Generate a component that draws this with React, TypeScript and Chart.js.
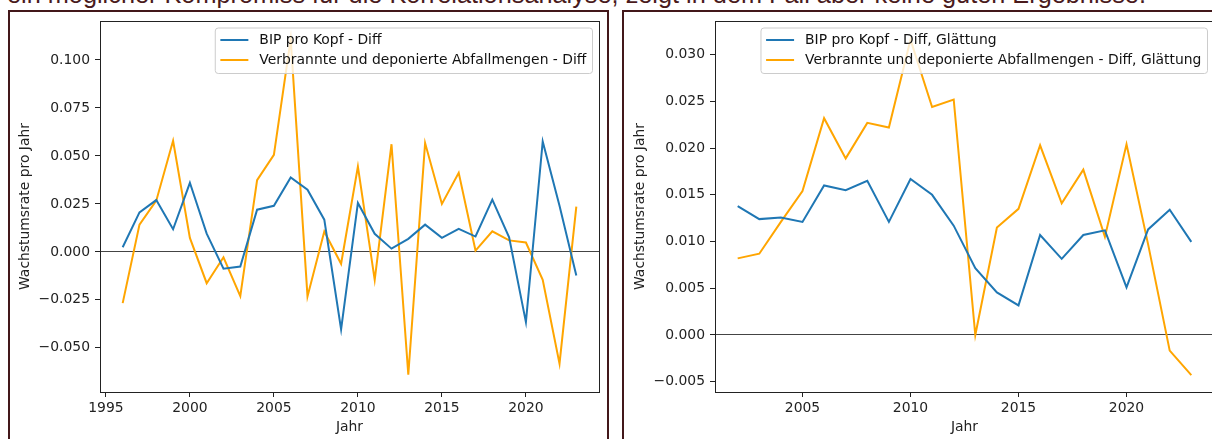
import React, { useEffect, useRef } from 'react';
import { Chart, registerables } from 'chart.js';

Chart.register(...registerables);
Chart.defaults.font.family = "'DejaVu Sans', sans-serif";
Chart.defaults.font.size = 13.9;
Chart.defaults.color = '#222';

const HEADER_TEXT = 'ein möglicher Kompromiss für die Korrelationsanalyse, zeigt in dem Fall aber keine guten Ergebnisse.';
const X_TITLE = 'Jahr';
const Y_TITLE = 'Wachstumsrate pro Jahr';

// Left panel: yearly differences
const LEFT_LABEL_BIP = 'BIP pro Kopf - Diff';
const LEFT_LABEL_ABFALL = 'Verbrannte und deponierte Abfallmengen - Diff';
const LEFT_YEARS = [1996, 1997, 1998, 1999, 2000, 2001, 2002, 2003, 2004, 2005, 2006, 2007, 2008, 2009, 2010, 2011, 2012, 2013, 2014, 2015, 2016, 2017, 2018, 2019, 2020, 2021, 2022, 2023];
const LEFT_BIP = [0.0024, 0.0206, 0.027, 0.0118, 0.036, 0.0095, -0.0088, -0.0076, 0.022, 0.024, 0.0388, 0.0324, 0.0168, -0.0404, 0.0255, 0.0094, 0.0017, 0.0068, 0.0142, 0.0073, 0.012, 0.008, 0.0272, 0.0076, -0.0366, 0.0575, 0.024, -0.0123];
const LEFT_ABFALL = [-0.0267, 0.0142, 0.0267, 0.0579, 0.0073, -0.0163, -0.0028, -0.023, 0.0374, 0.0506, 0.111, -0.0232, 0.0106, -0.0062, 0.0444, -0.0146, 0.0561, -0.064, 0.0567, 0.025, 0.0412, 0.0007, 0.0107, 0.006, 0.0049, -0.0146, -0.0582, 0.0236];
const LEFT_X_TICKS = [1995, 2000, 2005, 2010, 2015, 2020];
const LEFT_Y_TICKS = [-0.05, -0.025, 0, 0.025, 0.05, 0.075, 0.1];
const LEFT_X_RANGE = [1994.65, 2024.35];
const LEFT_Y_RANGE = [-0.073, 0.1203];

// Right panel: smoothed differences
const RIGHT_LABEL_BIP = 'BIP pro Kopf - Diff, Glättung';
const RIGHT_LABEL_ABFALL = 'Verbrannte und deponierte Abfallmengen - Diff, Glättung';
const RIGHT_YEARS = [2002, 2003, 2004, 2005, 2006, 2007, 2008, 2009, 2010, 2011, 2012, 2013, 2014, 2015, 2016, 2017, 2018, 2019, 2020, 2021, 2022, 2023];
const RIGHT_BIP = [0.0138, 0.0124, 0.01256, 0.0121, 0.016, 0.0155, 0.0165, 0.0121, 0.0167, 0.015, 0.0117, 0.00715, 0.00456, 0.00317, 0.0107, 0.00815, 0.0107, 0.0112, 0.0051, 0.0113, 0.0134, 0.00997];
const RIGHT_ABFALL = [0.0082, 0.0087, 0.0121, 0.0154, 0.0232, 0.0189, 0.0227, 0.0222, 0.0316, 0.0244, 0.0252, 0.0, 0.0115, 0.0135, 0.0203, 0.0141, 0.0177, 0.0105, 0.0204, 0.0097, -0.00167, -0.0043];
const RIGHT_X_TICKS = [2005, 2010, 2015, 2020];
const RIGHT_Y_TICKS = [-0.005, 0, 0.005, 0.01, 0.015, 0.02, 0.025, 0.03];
const RIGHT_X_RANGE = [2000.95, 2024.05];
const RIGHT_Y_RANGE = [-0.0061, 0.0336];

const BLUE = '#1f77b4';
const ORANGE = '#ffa500';
const FRAME = '#43181a';
const FONT_PX = 13.9;

const fmtY = (v: number) => (v < 0 ? '\u2212' : '') + Math.abs(v).toFixed(3);

const mplPlugin = {
  id: 'mplFrameLegend',
  afterDraw(chart: any) {
    const { ctx, chartArea } = chart;
    const { left, top, right, bottom } = chartArea;
    ctx.save();
    // spines
    ctx.strokeStyle = '#222';
    ctx.lineWidth = 1;
    ctx.strokeRect(Math.round(left) + 0.5, Math.round(top) + 0.5, Math.round(right) - Math.round(left), Math.round(bottom) - Math.round(top));
    // legend (upper right)
    const ds = chart.data.datasets;
    ctx.font = `${FONT_PX}px 'DejaVu Sans', sans-serif`;
    let maxW = 0;
    ds.forEach((d: any) => { maxW = Math.max(maxW, ctx.measureText(d.label).width); });
    const pad = 5.6;
    const handle = 28;
    const gap = 11;
    const w = pad * 2 + handle + gap + maxW;
    const h = 45.5;
    const bx = right - 7 - w;
    const by = top + 6.5;
    ctx.beginPath();
    if (ctx.roundRect) ctx.roundRect(bx + 0.5, by + 0.5, w, h, 3); else ctx.rect(bx + 0.5, by + 0.5, w, h);
    ctx.fillStyle = 'rgba(255,255,255,0.8)';
    ctx.fill();
    ctx.strokeStyle = '#cccccc';
    ctx.lineWidth = 1;
    ctx.stroke();
    ds.forEach((d: any, i: number) => {
      const cy = by + 12.5 + i * 20;
      ctx.beginPath();
      ctx.strokeStyle = d.borderColor;
      ctx.lineWidth = 2;
      ctx.moveTo(bx + pad, cy);
      ctx.lineTo(bx + pad + handle, cy);
      ctx.stroke();
      ctx.fillStyle = '#111';
      ctx.textBaseline = 'middle';
      ctx.textAlign = 'left';
      ctx.fillText(d.label, bx + pad + handle + gap, cy + 0.5);
    });
    ctx.restore();
  },
};

type PanelProps = {
  years: number[]; bip: number[]; abfall: number[];
  labelBip: string; labelAbfall: string;
  xTicks: number[]; yTicks: number[]; xRange: number[]; yRange: number[];
  left: number; top: number; width: number; height: number; padRight: number;
};

function Panel(p: PanelProps) {
  const ref = useRef<HTMLCanvasElement>(null);
  useEffect(() => {
    if (!ref.current) return;
    const chart = new Chart(ref.current, {
      type: 'line',
      data: {
        datasets: [
          { label: p.labelBip, data: p.years.map((x, i) => ({ x, y: p.bip[i] })), borderColor: BLUE, backgroundColor: BLUE, borderWidth: 2, pointRadius: 0, tension: 0, fill: false },
          { label: p.labelAbfall, data: p.years.map((x, i) => ({ x, y: p.abfall[i] })), borderColor: ORANGE, backgroundColor: ORANGE, borderWidth: 2, pointRadius: 0, tension: 0, fill: false },
        ],
      },
      options: {
        responsive: false,
        animation: false,
        events: [],
        layout: { padding: { left: 0, top: 9, right: p.padRight, bottom: 0 } },
        plugins: { legend: { display: false }, tooltip: { enabled: false } },
        scales: {
          x: {
            type: 'linear',
            min: p.xRange[0], max: p.xRange[1],
            afterBuildTicks: (s: any) => { s.ticks = p.xTicks.map((v) => ({ value: v })); },
            afterFit: (s: any) => { s.height = 47; s.paddingLeft = 0; s.paddingRight = 0; },
            ticks: { callback: (v: any) => String(v), color: '#222', padding: 3, maxRotation: 0, autoSkip: false, font: { size: FONT_PX } },
            grid: { drawOnChartArea: false, tickLength: 5, tickColor: '#222', tickWidth: 1 },
            border: { display: false },
            title: { display: true, text: X_TITLE, color: '#222', font: { size: FONT_PX }, padding: { top: 0, bottom: 3 } },
          },
          y: {
            type: 'linear',
            min: p.yRange[0], max: p.yRange[1],
            afterBuildTicks: (s: any) => { s.ticks = p.yTicks.map((v) => ({ value: v })); },
            afterFit: (s: any) => { s.width = 90; s.paddingTop = 0; s.paddingBottom = 0; },
            ticks: { callback: (v: any) => fmtY(Number(v)), color: '#222', padding: 5, autoSkip: false, font: { size: FONT_PX } },
            grid: {
              color: (c: any) => (c.tick && c.tick.value === 0 ? '#444' : 'rgba(0,0,0,0)'),
              lineWidth: 1, tickLength: 5, tickColor: '#222', tickWidth: 1,
            },
            border: { display: false },
            title: { display: true, text: Y_TITLE, color: '#222', font: { size: FONT_PX }, padding: { top: 7, bottom: 0 } },
          },
        },
      },
      plugins: [mplPlugin],
    } as any);
    return () => chart.destroy();
  }, []);
  return (
    <canvas
      ref={ref}
      width={p.width}
      height={p.height}
      style={{ position: 'absolute', left: p.left, top: p.top, width: p.width, height: p.height, display: 'block' }}
    />
  );
}

export default function App() {
  return (
    <div style={{ position: 'fixed', left: 0, top: 0, width: 1212, height: 439, overflow: 'hidden', background: '#fff' }}>
      <div
        style={{
          position: 'absolute', left: 7, top: -17.9, whiteSpace: 'nowrap',
          fontFamily: "'Liberation Sans', Arial, sans-serif", fontSize: 25.3, lineHeight: '25.3px', color: '#4a1a1c',
        }}
      >
        {HEADER_TEXT}
      </div>
      <div style={{ position: 'absolute', left: 8, top: 10, width: 601, height: 440, border: `2px solid ${FRAME}`, boxSizing: 'border-box' }} />
      <div style={{ position: 'absolute', left: 622, top: 10, width: 620, height: 440, border: `2px solid ${FRAME}`, boxSizing: 'border-box' }} />
      <Panel
        years={LEFT_YEARS} bip={LEFT_BIP} abfall={LEFT_ABFALL}
        labelBip={LEFT_LABEL_BIP} labelAbfall={LEFT_LABEL_ABFALL}
        xTicks={LEFT_X_TICKS} yTicks={LEFT_Y_TICKS} xRange={LEFT_X_RANGE} yRange={LEFT_Y_RANGE}
        left={10} top={12} width={598} height={427} padRight={9}
      />
      <Panel
        years={RIGHT_YEARS} bip={RIGHT_BIP} abfall={RIGHT_ABFALL}
        labelBip={RIGHT_LABEL_BIP} labelAbfall={RIGHT_LABEL_ABFALL}
        xTicks={RIGHT_X_TICKS} yTicks={RIGHT_Y_TICKS} xRange={RIGHT_X_RANGE} yRange={RIGHT_Y_RANGE}
        left={625} top={12} width={600} height={427} padRight={11}
      />
    </div>
  );
}
